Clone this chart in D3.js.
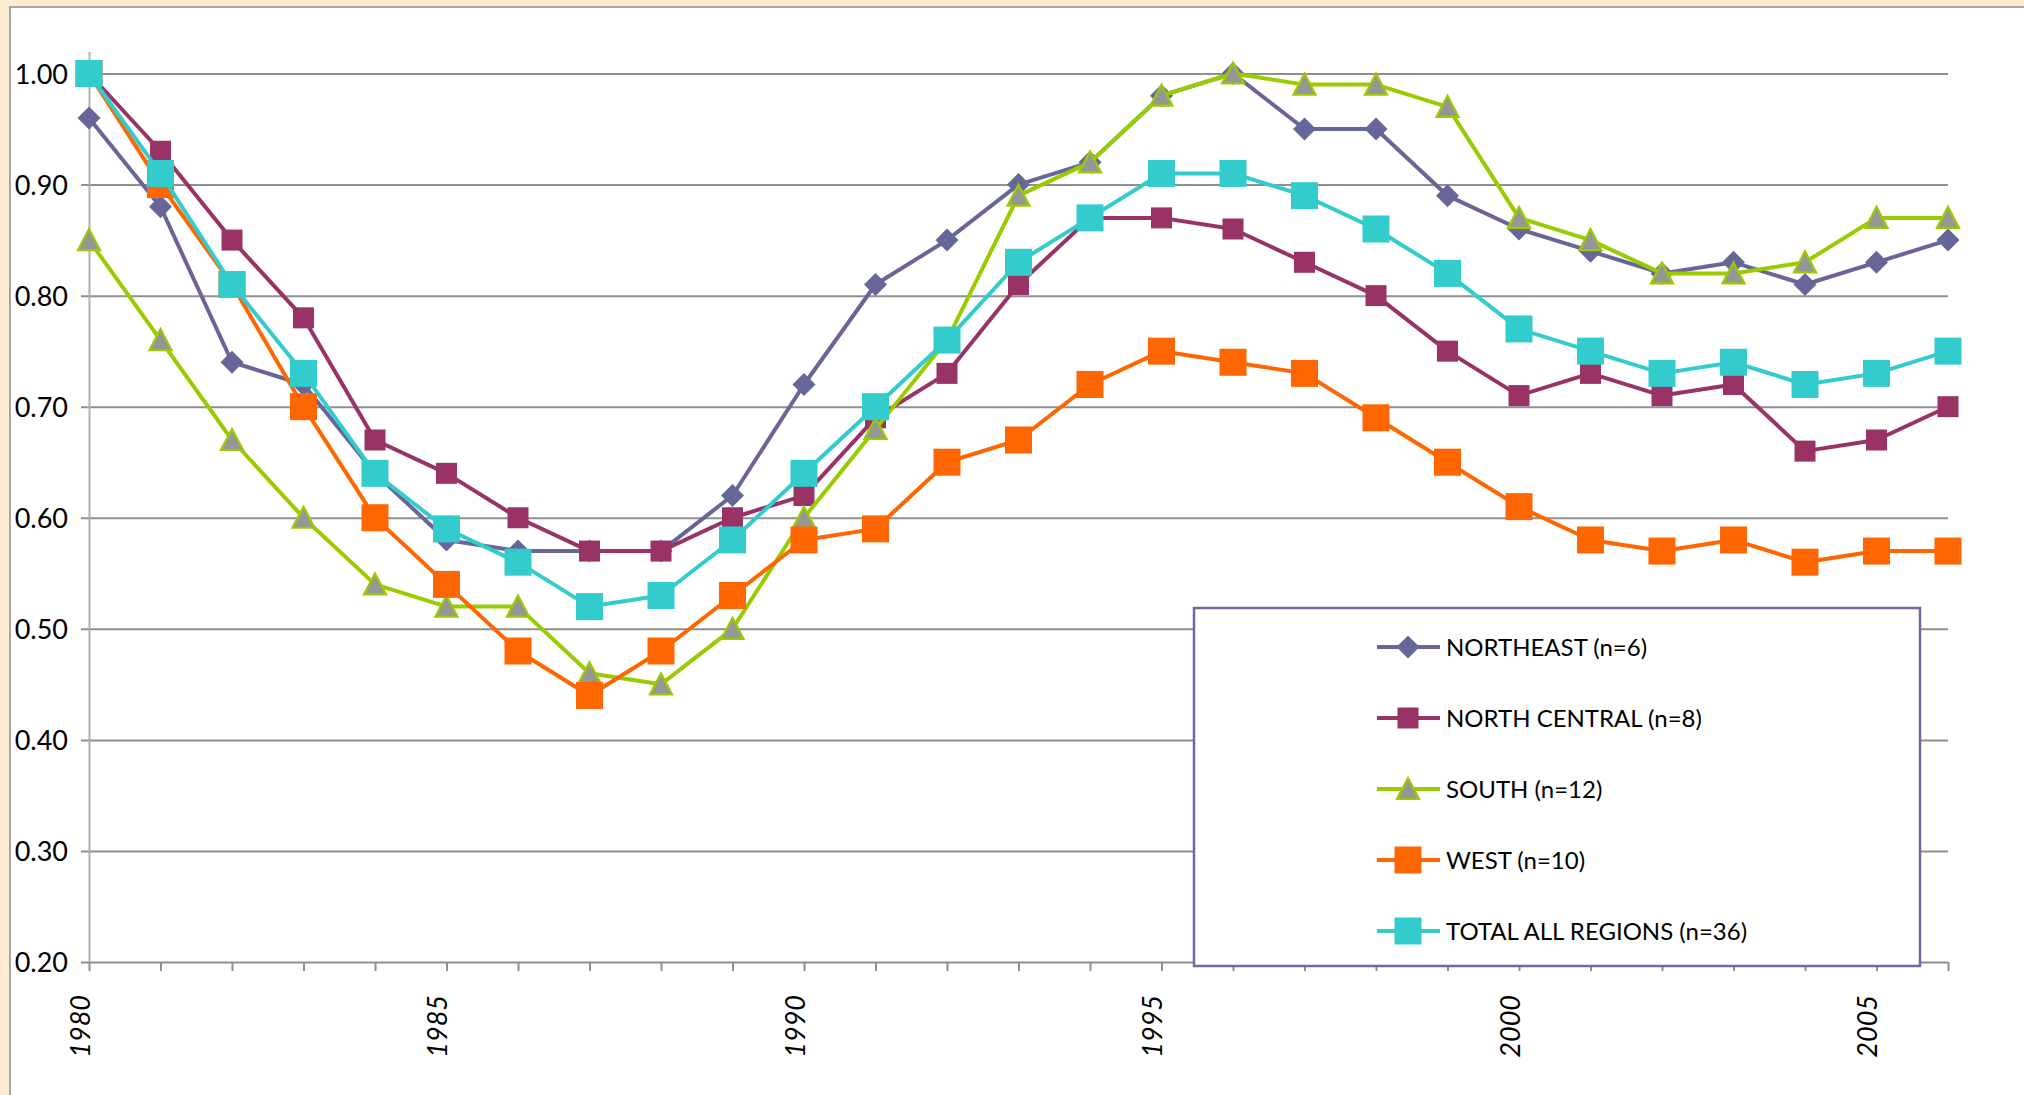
<!DOCTYPE html>
<html>
<head>
<meta charset="utf-8">
<script src="https://cdn.jsdelivr.net/npm/d3@7"></script>
<style>
  body { margin: 0; background: #fbecd2; }
  svg { display: block; }
  .tickText { font-family: Lato, "Noto Sans", sans-serif; font-size: 27px; fill: #000; }
  .legText { font-family: Lato, "Noto Sans", sans-serif; font-size: 24px; fill: #000; }
</style>
</head>
<body>
<div id="chart"></div>
<script>
// data
var years = d3.range(1980, 2007);
var northeast = [0.96, 0.88, 0.74, 0.72, 0.64, 0.58, 0.57, 0.57, 0.57, 0.62, 0.72, 0.81, 0.85, 0.90,
  0.92, 0.98, 1.00, 0.95, 0.95, 0.89, 0.86, 0.84, 0.82, 0.83, 0.81, 0.83, 0.85];
var northCentral = [1.00, 0.93, 0.85, 0.78, 0.67, 0.64, 0.60, 0.57, 0.57, 0.60, 0.62, 0.69, 0.73, 0.81,
  0.87, 0.87, 0.86, 0.83, 0.80, 0.75, 0.71, 0.73, 0.71, 0.72, 0.66, 0.67, 0.70];
var south = [0.85, 0.76, 0.67, 0.60, 0.54, 0.52, 0.52, 0.46, 0.45, 0.50, 0.60, 0.68, 0.76, 0.89,
  0.92, 0.98, 1.00, 0.99, 0.99, 0.97, 0.87, 0.85, 0.82, 0.82, 0.83, 0.87, 0.87];
var west = [1.00, 0.90, 0.81, 0.70, 0.60, 0.54, 0.48, 0.44, 0.48, 0.53, 0.58, 0.59, 0.65, 0.67,
  0.72, 0.75, 0.74, 0.73, 0.69, 0.65, 0.61, 0.58, 0.57, 0.58, 0.56, 0.57, 0.57];
var total = [1.00, 0.91, 0.81, 0.73, 0.64, 0.59, 0.56, 0.52, 0.53, 0.58, 0.64, 0.70, 0.76, 0.83,
  0.87, 0.91, 0.91, 0.89, 0.86, 0.82, 0.77, 0.75, 0.73, 0.74, 0.72, 0.73, 0.75];
var seriesNames = ["NORTHEAST (n=6)", "NORTH CENTRAL (n=8)", "SOUTH (n=12)", "WEST (n=10)", "TOTAL ALL REGIONS (n=36)"];
var yTicks = [0.2, 0.3, 0.4, 0.5, 0.6, 0.7, 0.8, 0.9, 1.0];
var xLabelYears = [1980, 1985, 1990, 1995, 2000, 2005];

var width = 2024;
var height = 1095;

var series = [
  { name: seriesNames[0], values: northeast, color: "#666699", marker: "diamond", size: 23 },
  { name: seriesNames[1], values: northCentral, color: "#993366", marker: "square", size: 21 },
  { name: seriesNames[2], values: south, color: "#99cc00", marker: "triangle", size: 22 },
  { name: seriesNames[3], values: west, color: "#ff6600", marker: "square", size: 27 },
  { name: seriesNames[4], values: total, color: "#33cccc", marker: "square", size: 27 }
];

var svg = d3.select("#chart").append("svg")
  .attr("width", width)
  .attr("height", height);

// beige page + white chart area
svg.append("rect").attr("width", width).attr("height", height).attr("fill", "#fbecd2");
svg.append("rect")
  .attr("x", 10).attr("y", 7)
  .attr("width", width + 10).attr("height", height + 10)
  .attr("fill", "#fff")
  .attr("stroke", "#8a8a8a")
  .attr("stroke-width", 1.5);

// scales
var xScale = d3.scaleLinear().domain([1980, 2006]).range([89, 1948]);
var yScale = d3.scaleLinear().domain([0.2, 1.0]).range([962, 73.5]);

// gridlines + y ticks
var yAxis = d3.axisLeft(yScale)
  .tickValues(yTicks)
  .tickSize(-(1948 - 89))
  .tickPadding(0)
  .tickFormat("");
var gy = svg.append("g")
  .attr("transform", "translate(89,0)")
  .call(yAxis);
gy.select(".domain").remove();
gy.selectAll(".tick line")
  .attr("x1", -8)
  .attr("stroke", "#8f8f8f")
  .attr("stroke-width", 2);

gy.selectAll(".tick").append("text")
  .attr("class", "tickText")
  .attr("x", -21)
  .attr("dy", "0.36em")
  .attr("text-anchor", "end")
  .text(function(d) { return d3.format(".2f")(d); });

// y axis line
svg.append("line")
  .attr("x1", 89.5).attr("x2", 89.5)
  .attr("y1", 52).attr("y2", yScale(0.2))
  .attr("stroke", "#b0b0b0")
  .attr("stroke-width", 2);

// x axis ticks
var xAxis = d3.axisBottom(xScale)
  .tickValues(years)
  .tickSize(9)
  .tickFormat("");
var gx = svg.append("g")
  .attr("transform", "translate(0," + yScale(0.2) + ")")
  .call(xAxis);
gx.select(".domain").remove();
gx.selectAll(".tick line").attr("stroke", "#8f8f8f").attr("stroke-width", 2);

// rotated year labels
svg.selectAll(".xLab")
  .data(xLabelYears)
  .enter()
  .append("text")
  .attr("class", "tickText xLab")
  .attr("font-style", "italic")
  .attr("text-anchor", "end")
  .attr("dy", "0.36em")
  .attr("transform", function(d) {
    return "translate(" + (xScale(d) - 9) + ",995)rotate(-90)";
  })
  .text(function(d) { return d; });

// marker drawing
function drawMarker(g, s) {
  var h = s.size / 2;
  if (s.marker === "diamond") {
    g.append("path")
      .attr("d", "M0," + (-h) + "L" + h + ",0L0," + h + "L" + (-h) + ",0Z")
      .attr("fill", s.color);
  }
  else if (s.marker === "square") {
    g.append("rect")
      .attr("x", -h).attr("y", -h)
      .attr("width", s.size).attr("height", s.size)
      .attr("fill", s.color);
  }
  else {
    g.append("path")
      .attr("d", "M0," + (-h) + "L" + h + "," + (h - 1) + "L" + (-h) + "," + (h - 1) + "Z")
      .attr("fill", "#969696")
      .attr("stroke", s.color)
      .attr("stroke-width", 2.2)
      .attr("stroke-linejoin", "miter");
  }
}

var line = d3.line()
  .x(function(d, i) { return xScale(years[i]); })
  .y(function(d) { return yScale(d); });

series.forEach(function(s) {
  var g = svg.append("g").attr("class", "series");
  g.append("path")
    .datum(s.values)
    .attr("d", line)
    .attr("fill", "none")
    .attr("stroke", s.color)
    .attr("stroke-width", 4)
    .attr("stroke-linejoin", "round");

  g.selectAll(".pt")
    .data(s.values)
    .enter()
    .append("g")
    .attr("class", "pt")
    .attr("transform", function(d, i) {
      return "translate(" + xScale(years[i]) + "," + yScale(d) + ")";
    })
    .each(function() { drawMarker(d3.select(this), s); });
});

// legend
var legX = 1194, legY = 608, legW = 726, legH = 358;
svg.append("rect")
  .attr("x", legX).attr("y", legY)
  .attr("width", legW).attr("height", legH)
  .attr("fill", "#fff")
  .attr("stroke", "#6b6b9e")
  .attr("stroke-width", 2.5);

var legRows = svg.selectAll(".legRow")
  .data(series)
  .enter()
  .append("g")
  .attr("class", "legRow")
  .attr("transform", function(d, i) { return "translate(0," + (647 + i * 71) + ")"; });

legRows.append("line")
  .attr("x1", 1377).attr("x2", 1440)
  .attr("stroke", function(d) { return d.color; })
  .attr("stroke-width", 4);

legRows.append("g")
  .attr("transform", "translate(1408,0)")
  .each(function(d) { drawMarker(d3.select(this), d); });

legRows.append("text")
  .attr("class", "legText")
  .attr("x", 1446)
  .attr("dy", "0.36em")
  .text(function(d) { return d.name; });
</script>
</body>
</html>
